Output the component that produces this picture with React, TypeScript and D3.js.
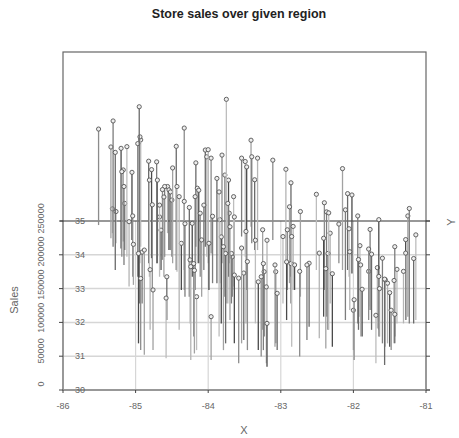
import * as d3 from "d3";

// longitude / latitude / sales of each store
const lon = [
  -85.51, -85.34, -85.31, -85.28, -85.32, -85.27, -85.2, -85.19, -85.17, -85.16,
  -85.15, -85.12, -85.09, -85.05, -85.04, -85.03, -84.97, -84.95, -84.94, -84.93,
  -84.96, -84.93, -84.88, -84.91, -84.82, -84.81, -84.8, -84.78, -84.77, -84.76,
  -84.71, -84.7, -84.67, -84.67, -84.65, -84.63, -84.61, -84.6, -84.57, -84.58,
  -84.56, -84.54, -84.52, -84.49, -84.5,
  -84.44, -84.43, -84.4, -84.37, -84.33, -84.33, -84.32, -84.26, -84.25, -84.24,
  -84.22, -84.2, -84.19, -84.18, -84.17, -84.16, -84.15, -84.13, -84.11, -84.09,
  -84.06, -84.04, -84.02, -84.0, -83.99, -83.96, -83.96, -83.94, -83.88, -83.85,
  -83.84, -83.82, -83.81, -83.79, -83.77, -83.76, -83.75, -83.73, -83.72, -83.71,
  -83.7, -83.68, -83.67, -83.65, -83.64, -83.64, -83.58, -83.54, -83.54, -83.51,
  -83.49, -83.48, -83.47, -83.46, -83.41, -83.4, -83.36, -83.35, -83.32, -83.31,
  -83.27, -83.25, -83.24, -83.23, -83.2, -83.19, -83.19, -83.11, -83.08, -83.07,
  -83.05, -82.97, -82.93, -82.92, -82.91, -82.88, -82.86, -82.86, -82.85, -82.83,
  -82.81, -82.74, -82.73, -82.64, -82.61, -82.51, -82.47, -82.41, -82.4, -82.38,
  -82.37, -82.35, -82.34, -82.32, -82.29, -82.2, -82.15,
  -82.11, -82.08, -82.06, -82.05, -82.02, -81.99, -82.0, -81.94, -81.93, -81.91,
  -81.9, -81.88, -81.79, -81.79, -81.77, -81.75, -81.69, -81.67, -81.65, -81.65,
  -81.64, -81.6, -81.57, -81.56, -81.53, -81.5, -81.48, -81.44, -81.43, -81.43,
  -81.4, -81.31, -81.28, -81.28, -81.25, -81.23, -81.17, -81.14,
];

const lat = [
  34.88, 34.49, 34.24, 33.55, 34.64, 34.34, 34.19, 33.94, 34.39, 33.7,
  34.14, 33.94, 33.06, 34.44, 33.35, 33.11, 33.35, 32.56, 33.75, 34.24,
  31.38, 31.18, 31.04, 32.56, 33.75, 33.35, 31.78, 33.9, 32.96, 31.18,
  33.75, 33.75, 33.35, 33.94, 33.55, 33.85, 33.35, 33.94, 32.07, 30.94,
  34.64, 34.14, 34.14, 33.75, 33.94,
  33.55, 33.5, 31.78, 32.96, 33.55, 32.96, 32.76, 32.76, 31.97, 30.89,
  33.35, 31.58, 31.08, 32.96, 34.24, 31.18, 33.75, 33.75, 33.35, 32.76,
  33.55, 34.24, 33.94, 33.75, 32.96, 34.04, 30.89, 33.16, 33.16, 31.58,
  33.16, 31.97, 33.75, 31.18, 32.76, 31.38, 32.56, 32.56, 33.35, 33.75,
  32.07, 32.56, 32.76, 33.06, 32.96, 31.38, 30.79, 31.38, 34.54, 31.48,
  33.94, 31.97, 32.96, 31.18, 34.83, 34.34, 34.14, 31.97, 34.14, 31.18,
  30.99, 31.78, 31.18, 31.58, 30.79, 31.97, 30.69, 34.44, 31.28, 31.38,
  31.18, 32.56, 33.85, 32.07, 32.96, 33.16, 32.56, 33.35, 31.28, 32.96,
  32.96, 30.99, 32.76, 31.48, 31.87, 33.55, 31.53, 32.17, 32.96, 31.23,
  32.17, 31.78, 31.78, 32.56, 31.28, 33.75, 33.55,
  32.07, 33.55, 33.35, 32.37, 33.45, 30.89, 31.18, 31.97, 31.78, 32.17,
  31.58, 31.58, 32.07, 32.47, 32.37, 31.78, 30.79, 31.82, 31.78, 31.58,
  31.58, 31.38, 30.74, 31.28, 31.38, 31.28, 31.18, 31.38, 31.58, 31.38,
  31.97, 31.97, 32.07, 32.07, 32.17, 31.97, 31.97, 32.07,
];

const sales = [
  142000, 135000, 186000, 174000, 36000, 47000, 148000, 126000, 106000, 116000,
  69000, 163000, 96000, 100000, 90000, 60000, 197000, 291000, 187000, 158000,
  133000, 106000, 155000, 76000, 151000, 143000, 89000, 131000, 126000, 89000,
  150000, 123000, 106000, 59000, 59000, 104000, 118000, 104000, 64000, 89000,
  69000, 89000, 86000, 141000, 84000,
  183000, 126000, 197000, 69000, 210000, 131000, 108000, 132000, 94000, 138000,
  79000, 108000, 123000, 138000, 124000, 79000, 111000, 108000, 94000, 84000,
  96000, 143000, 148000, 168000, 69000, 141000, 64000, 99000, 155000, 214000,
  94000, 128000, 160000, 153000, 180000, 133000, 302000, 148000, 143000, 74000,
  138000, 74000, 59000, 133000, 108000, 101000, 126000, 141000, 116000, 99000,
  141000, 136000, 182000, 131000, 128000, 128000, 104000, 123000, 136000, 101000,
  118000, 148000, 128000, 96000, 113000, 123000, 64000, 118000, 121000, 106000,
  84000, 99000, 134000, 86000, 89000, 113000, 59000, 139000, 163000, 94000,
  37000, 126000, 126000, 111000, 94000, 112000, 126000, 116000, 129000, 118000,
  155000, 113000, 173000, 104000, 108000, 58000, 150000,
  163000, 113000, 71000, 86000, 116000, 89000, 59000, 159000, 104000, 105000,
  106000, 70000, 105000, 52000, 119000, 112000, 71000, 90000, 163000, 89000,
  71000, 126000, 127000, 99000, 89000, 80000, 59000, 93000, 133000, 43000,
  80000, 77000, 119000, 99000, 149000, 170000, 96000, 126000,
];

const xTicks = [-86, -85, -84, -83, -82, -81];
const yTicks = [30, 31, 32, 33, 34, 35];
const zTicks = [0, 50000, 100000, 150000, 200000, 250000];

const W = 459;
const H = 438;
const left = 63;
const right = 426;
const top = 52;
const bottom = 390;

const grays = ["#8c8c8c", "#b4b4b4", "#6a6a6a", "#a2a2a2", "#4a4a4a", "#bdbdbd", "#7d7d7d"];
const font = "'Liberation Sans', Arial, sans-serif";

export default function App() {
  const x = d3.scaleLinear().domain([-86, -81]).range([left, right]);
  const y = d3.scaleLinear().domain([30, 35]).range([bottom, 221]);
  const z = d3.scaleLinear().domain([0, 250000]).range([0, bottom - 221]);

  const pts = lon
    .map((v, i) => ({ lon: v, lat: lat[i], sales: sales[i], i }))
    .sort((a, b) => b.lat - a.lat);

  return (
    <svg width={W} height={H} style={{ position: "absolute", left: 0, top: 0, background: "#fff" }}>
      <text x={239} y={18} textAnchor="middle" fontFamily={font} fontWeight="bold" fontSize={12.5} fill="#222">
        Store sales over given region
      </text>

      {/* grid on the base plane */}
      {yTicks.slice(0, 5).map((t) => (
        <line key={"gy" + t} x1={left} x2={right} y1={y(t)} y2={y(t)} stroke="#d6d6d6" strokeWidth={1.5} />
      ))}
      {xTicks.map((t) => (
        <line key={"gx" + t} x1={x(t)} x2={x(t)} y1={y(35)} y2={bottom} stroke="#d6d6d6" strokeWidth={1.2} />
      ))}

      <rect x={left} y={top} width={right - left} height={bottom - top} fill="none" stroke="#666" strokeWidth={1.2} />
      <line x1={left - 3} x2={right + 4} y1={y(35)} y2={y(35)} stroke="#333" strokeWidth={1.2} />
      <line x1={left} x2={right + 4} y1={bottom} y2={bottom} stroke="#999" strokeWidth={1.5} />

      {yTicks.map((t) => (
        <g key={"ty" + t}>
          <line x1={left - 4} x2={left} y1={y(t)} y2={y(t)} stroke="#444" />
          <line x1={right} x2={right + 4} y1={y(t)} y2={y(t)} stroke="#444" />
          <text x={80} y={y(t) + 3} textAnchor="middle" fontFamily={font} fontSize={9} fill="#666">
            {t}
          </text>
        </g>
      ))}

      {zTicks.map((t) => (
        <text
          key={"tz" + t}
          transform={`translate(44,${bottom - 6 - z(t) * 0.98}) rotate(-90)`}
          textAnchor="middle"
          fontFamily={font}
          fontSize={9}
          fill="#666"
        >
          {t}
        </text>
      ))}

      {xTicks.map((t) => (
        <g key={"tx" + t}>
          <line x1={x(t)} x2={x(t)} y1={bottom} y2={bottom + 3} stroke="#444" />
          <text x={x(t)} y={bottom + 19} textAnchor="middle" fontFamily={font} fontSize={9} fill="#666">
            {t}
          </text>
        </g>
      ))}

      <text x={244} y={434} textAnchor="middle" fontFamily={font} fontSize={11} fill="#666">
        X
      </text>
      <text transform="translate(18,300) rotate(-90)" textAnchor="middle" fontFamily={font} fontSize={11} fill="#666">
        Sales
      </text>
      <text transform="translate(455,222) rotate(-90)" textAnchor="middle" fontFamily={font} fontSize={11} fill="#666">
        Y
      </text>

      {pts.map((p) => {
        const px = x(p.lon);
        const base = y(p.lat);
        const tip = base - z(p.sales);
        return (
          <g key={"p" + p.i}>
            <line x1={px} x2={px} y1={base} y2={tip} stroke={grays[(p.i * 3) % grays.length]} strokeWidth={1.3} />
            <circle cx={px} cy={tip} r={2.1} fill="#eee" stroke="#555" strokeWidth={0.9} />
          </g>
        );
      })}
    </svg>
  );
}
